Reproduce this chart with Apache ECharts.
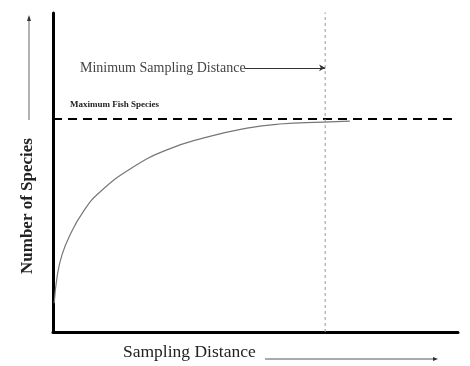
<!DOCTYPE html>
<html>
<head>
<meta charset="utf-8">
<script src="https://cdn.jsdelivr.net/npm/echarts@6/dist/echarts.min.js"></script>
<style>html,body{margin:0;padding:0;background:#fff}#c{width:470px;height:366px}</style>
</head>
<body>
<div id="c"></div>
<script>
// Species accumulation curve (x: sampling distance, y: number of species)
const curveX = [0.3, 1.0, 2.2, 4.2, 7.4, 11.6, 19.8, 28.1, 37.0, 47.9, 56.0, 66.7, 73.3];
const curveY = [9.0, 17.2, 24.1, 30.4, 37.6, 43.9, 51.7, 57.1, 60.8, 63.9, 65.2, 65.8, 66.1];
const maxSpecies = 66.8;
const maxLineX = [0, 98.5];
const minDistance = 67.2;
const minDistLineY = [0, 100.5];
const minLabelArrowX = [47.4, 67.2];
const minLabelArrowY = 82.8;
const xAxisTitle = 'Sampling Distance';
const yAxisTitle = 'Number of Species';
const minLabel = 'Minimum Sampling Distance';
const maxLabel = 'Maximum Fish Species';

const chart = echarts.init(document.getElementById('c'), null, {renderer: 'canvas'});
const serif = '"Liberation Serif", "DejaVu Serif", serif';
chart.setOption({
  backgroundColor: '#fff',
  animation: false,
  grid: {left: 53, right: 12, top: 13, bottom: 34},
  xAxis: {
    type: 'value', min: 0, max: 100,
    axisLine: {show: true, lineStyle: {color: '#000', width: 3}},
    axisTick: {show: false}, axisLabel: {show: false}, splitLine: {show: false}
  },
  yAxis: {
    type: 'value', min: 0, max: 100,
    axisLine: {show: true, lineStyle: {color: '#000', width: 3}},
    axisTick: {show: false}, axisLabel: {show: false}, splitLine: {show: false}
  },
  series: [
    {
      type: 'line', smooth: 0.5, symbol: 'none', z: 3,
      lineStyle: {color: '#777', width: 1.2},
      data: curveX.map((x, i) => [x, curveY[i]])
    },
    {
      type: 'line', symbol: 'none', z: 2,
      lineStyle: {color: '#000', width: 2, type: [9, 6]},
      data: maxLineX.map(x => [x, maxSpecies])
    },
    {
      type: 'line', symbol: 'none', z: 2,
      lineStyle: {color: '#999', width: 1, type: [3, 3]},
      data: minDistLineY.map(y => [minDistance, y]),
      markLine: {
        silent: true, symbol: ['none', 'arrow'], symbolSize: [5, 6],
        label: {show: false},
        lineStyle: {color: '#333', width: 1, type: 'solid'},
        data: [[{coord: [minLabelArrowX[0], minLabelArrowY]}, {coord: [minLabelArrowX[1], minLabelArrowY]}]]
      }
    }
  ],
  graphic: [
    {type: 'text', left: 80, top: 61, style: {text: minLabel, font: '14px ' + serif, fill: '#444'}},
    {type: 'text', left: 70, top: 100, style: {text: maxLabel, font: 'bold 9px ' + serif, fill: '#222'}},
    {type: 'text', left: 123, top: 343, style: {text: xAxisTitle, font: '17.5px ' + serif, fill: '#222'}},
    {type: 'text', x: 19, y: 274, rotation: Math.PI / 2, style: {text: yAxisTitle, font: 'bold 17px ' + serif, fill: '#222'}},
    {type: 'line', shape: {x1: 265, y1: 359, x2: 436, y2: 359}, style: {stroke: '#555', lineWidth: 1}},
    {type: 'polygon', shape: {points: [[438, 359], [433, 357], [433, 361]]}, style: {fill: '#333'}},
    {type: 'line', shape: {x1: 29, y1: 120, x2: 29, y2: 20}, style: {stroke: '#999', lineWidth: 1.5}},
    {type: 'polygon', shape: {points: [[29, 15], [27, 21], [31, 21]]}, style: {fill: '#333'}}
  ]
});
</script>
</body>
</html>
